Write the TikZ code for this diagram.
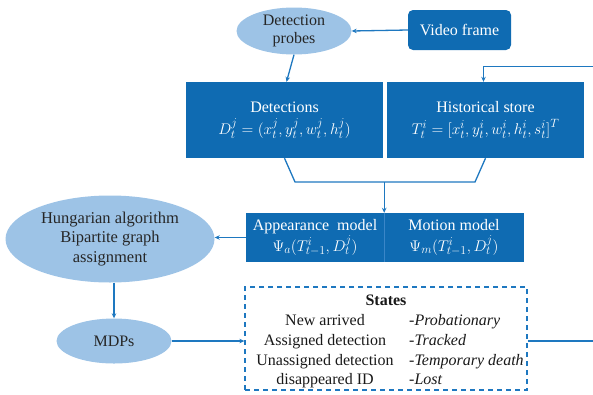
\RequirePackage{fix-cm}
\documentclass[tikz,border=0pt]{standalone}
\usepackage{fontspec}
\setmainfont{Liberation Serif}
\usetikzlibrary{shapes.geometric,arrows.meta}
\DeclareMathSizes{15.5}{15.5}{12}{9}
\definecolor{dblue}{HTML}{0F6BB2}
\definecolor{lblue}{HTML}{9DC3E6}
\definecolor{cblue}{HTML}{1E78C0}
\definecolor{divc}{HTML}{3A86C8}
\newcommand{\mfs}{\fontsize{15.5}{18}\selectfont}
\tikzset{
  lell/.style={ellipse, fill=lblue, draw=none, inner sep=0pt, align=center, font=\fontsize{16}{18.5}\selectfont, text=black!85},
  dbox/.style={fill=dblue, draw=none, text=white, align=center, inner sep=0pt, font=\fontsize{16}{20}\selectfont},
  conn/.style={draw=cblue, line width=1.3pt},
  arr/.style={conn, -{Stealth[length=5pt,width=4.5pt]}},
  statesbox/.style={draw=cblue, line width=1.3pt, dash pattern=on 5pt off 4pt, minimum width=282pt, minimum height=103pt, inner sep=0pt},
  sttext/.style={font=\fontsize{16}{18}\selectfont, inner sep=0pt, text=black!90}
}
\begin{document}
\begin{tikzpicture}[x=1pt,y=-1pt]
\useasboundingbox (0,0) rectangle (593,394);
% top row
\node[lell, minimum width=115pt, minimum height=47pt] (probes) at (294,31) {Detection\\probes};
\node[dbox, rounded corners=5pt, minimum width=103pt, minimum height=40pt] (video) at (459.5,30) {Video frame};
% detections and historical store
\node[dbox, minimum width=197pt, minimum height=76pt] (det) at (284.5,120)
  {Detections\\[2pt]{\mfs$D_t^j=(x_t^j,y_t^j,w_t^j,h_t^j)$}};
\node[dbox, minimum width=197pt, minimum height=76pt] (hist) at (485.5,120)
  {Historical store\\[2pt]{\mfs$T_t^i=\bigl[x_t^i,y_t^i,w_t^i,h_t^i,s_t^i\bigr]^T$}};
% models
\node[dbox, minimum width=138pt, minimum height=49pt] (app) at (315,237.5)
  {Appearance\ \ model\\[1pt]{\mfs$\Psi_a\bigl(T_{t-1}^i,D_t^j\bigr)$}};
\node[dbox, minimum width=140pt, minimum height=49pt] (mot) at (454,237.5)
  {Motion model\\[1pt]{\mfs$\Psi_m\bigl(T_{t-1}^i,D_t^j\bigr)$}};
\draw[divc, line width=0.6pt] (app.north east) -- (app.south east);
% left ellipses
\node[lell, minimum width=209pt, minimum height=87pt, font=\fontsize{16.5}{19.5}\selectfont] (hung) at (110,239)
  {Hungarian algorithm\\Bipartite graph\\assignment};
\node[lell, minimum width=115pt, minimum height=45pt] (mdp) at (114,341) {MDPs};
% states
\node[statesbox] (states) at (386,338.5) {};
\node[sttext, font=\fontsize{16}{18}\selectfont\bfseries, anchor=base] (sttl) at (386,305) {States};
\node[sttext, anchor=base] (s1) at (325,325) {New arrived};
\node[sttext, anchor=base] (s2) at (325,345) {Assigned detection};
\node[sttext, anchor=base] (s3) at (325,365) {Unassigned detection};
\node[sttext, anchor=base] (s4) at (325,384) {disappeared ID};
\node[sttext, anchor=base west] (t1) at (409,325) {-\textit{Probationary}};
\node[sttext, anchor=base west] (t2) at (409,345) {-\textit{Tracked}};
\node[sttext, anchor=base west] (t3) at (409,365) {-\textit{Temporary death}};
\node[sttext, anchor=base west] (t4) at (409,384) {-\textit{Lost}};
% connectors
\draw[arr] (video.west) -- (probes.east);
\draw[arr] (probes.south) -- ([xshift=2pt]det.north);
\coordinate (mL) at (295,182);
\coordinate (mR) at (475,182);
\coordinate (mC) at (app.north east |- mL);
\draw[conn] (det.south) -- (mL) -- (mR) -- (hist.south);
\draw[arr] (mC) -- (app.north east);
\draw[arr] (app.west) -- (app.west -| hung.east);
\draw[arr] (mdp.north |- hung.south) -- (mdp.north);
\draw[arr] (mdp.east) -- (mdp.east -| states.west);
\begin{scope}
\clip (0,0) rectangle (593,394);
\draw[arr] (states.east |- mdp.east) -- ++(80,0) |- ([xshift=-2pt,yshift=15pt]hist.north) -- ([xshift=-2pt]hist.north);
\end{scope}
\end{tikzpicture}
\end{document}
